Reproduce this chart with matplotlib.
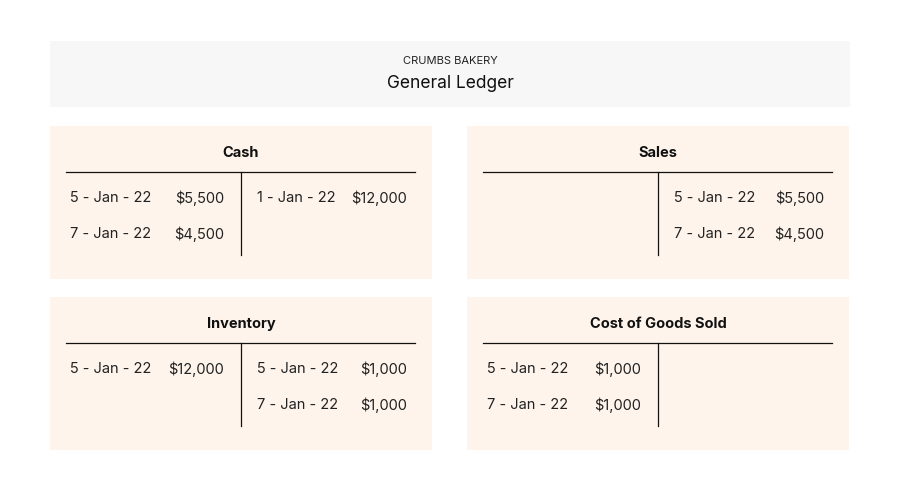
import matplotlib.pyplot as plt
from matplotlib.patches import Rectangle

plt.rcParams['font.family'] = 'Inter'

company = "CRUMBS BAKERY"
title = "General Ledger"

accounts = ["Cash", "Sales", "Inventory", "Cost of Goods Sold"]
cash_debits = [("5 - Jan - 22", "$5,500"), ("7 - Jan - 22", "$4,500")]
cash_credits = [("1 - Jan - 22", "$12,000")]
sales_debits = []
sales_credits = [("5 - Jan - 22", "$5,500"), ("7 - Jan - 22", "$4,500")]
inv_debits = [("5 - Jan - 22", "$12,000")]
inv_credits = [("5 - Jan - 22", "$1,000"), ("7 - Jan - 22", "$1,000")]
cogs_debits = [("5 - Jan - 22", "$1,000"), ("7 - Jan - 22", "$1,000")]
cogs_credits = []

entries = [(cash_debits, cash_credits), (sales_debits, sales_credits),
           (inv_debits, inv_credits), (cogs_debits, cogs_credits)]

fig = plt.figure(figsize=(9, 4.85), dpi=100)
ax = fig.add_axes([0, 0, 1, 1])
ax.set_xlim(0, 900)
ax.set_ylim(485, 0)
ax.axis('off')

# header
ax.add_patch(Rectangle((50, 42), 800, 66, color='#f7f7f7', lw=0))
ax.text(450, 61, company, ha='center', va='center', fontsize=8, color='#222222')
ax.text(450, 84, title, ha='center', va='center', fontsize=12.5, color='#111111')

panel_x = [50, 467, 50, 467]
panel_y = [127, 127, 298, 298]
for name, (deb, cred), px, py in zip(accounts, entries, panel_x, panel_y):
    ax.add_patch(Rectangle((px, py), 382, 153, color='#fef4eb', lw=0))
    ax.text(px + 191, py + 26, name, ha='center', va='center', fontsize=10.5,
            fontweight='bold', color='#111111')
    ax.plot([px + 16, px + 365], [py + 46, py + 46], color='#111111', lw=0.9)
    ax.plot([px + 191, px + 191], [py + 46, py + 129], color='#111111', lw=0.9)
    for i, (d, amt) in enumerate(deb):
        y = py + 71 + 36 * i
        ax.text(px + 20, y, d, ha='left', va='center', fontsize=10.5, color='#222222')
        ax.text(px + 174, y, amt, ha='right', va='center', fontsize=10.5, color='#222222')
    for i, (d, amt) in enumerate(cred):
        y = py + 71 + 36 * i
        ax.text(px + 207, y, d, ha='left', va='center', fontsize=10.5, color='#222222')
        ax.text(px + 357, y, amt, ha='right', va='center', fontsize=10.5, color='#222222')

fig.savefig('out.png', dpi=100)
